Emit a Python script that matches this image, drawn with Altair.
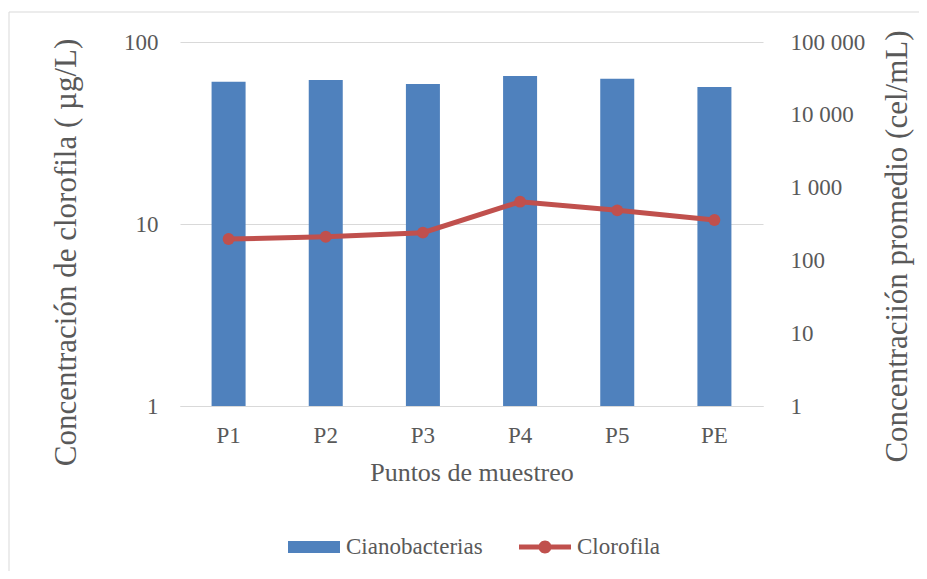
import altair as alt
import pandas as pd

categories = ["P1", "P2", "P3", "P4", "P5", "PE"]
cianobacterias = [28500, 30100, 26500, 34100, 31300, 24100]
clorofila = [8.27, 8.51, 8.96, 13.26, 11.89, 10.52]
series_names = ["Cianobacterias", "Clorofila"]
left_ticks = [1, 10, 100]
right_ticks = [1, 10, 100, 1000, 10000, 100000]

df = pd.DataFrame({"punto": categories, "ciano": cianobacterias, "cloro": clorofila})

FONT = "Liberation Serif"
GREY = "#595959"
BLUE = "#4f81bd"
RED = "#c0504d"
W, H = 583, 364

x_enc = alt.X(
    "punto:N",
    sort=categories,
    scale=alt.Scale(paddingInner=0.65, paddingOuter=0.325),
    axis=alt.Axis(
        title="Puntos de muestreo",
        labelAngle=0,
        ticks=False,
        tickSize=0,
        domainColor="#d9d9d9",
        domainWidth=1,
        labelPadding=18,
        titlePadding=12,
        labelFont=FONT,
        labelFontSize=23,
        labelColor=GREY,
        titleFont=FONT,
        titleFontSize=26,
        titleFontWeight="normal",
        titleColor=GREY,
    ),
)

bars = alt.Chart(df).mark_bar(color=BLUE).encode(
    x=x_enc,
    y=alt.Y(
        "ciano:Q",
        scale=alt.Scale(type="log", domain=[1, 100000]),
        axis=alt.Axis(
            orient="right",
            values=right_ticks,
            labelExpr="replace(format(datum.value, ','), ',', ' ')",
            grid=False,
            domain=False,
            ticks=False,
            tickSize=0,
            labelPadding=27,
            labelAlign="left",
            labelFont=FONT,
            labelFontSize=23,
            labelColor=GREY,
            title="Concentraciión promedio (cel/mL)",
            titleFont=FONT,
            titleFontSize=31,
            titleFontWeight="normal",
            titleColor=GREY,
            titleAngle=270,
            titleBaseline="bottom",
            titleAlign="center",
            titleX=150,
            titleY=204,
        ),
    ),
    y2=alt.datum(1),
)

line = alt.Chart(df).mark_line(
    color=RED, strokeWidth=5,
    point=alt.OverlayMarkDef(color=RED, filled=True, size=140, opacity=1),
).encode(
    x=x_enc,
    y=alt.Y(
        "cloro:Q",
        scale=alt.Scale(type="log", domain=[1, 100]),
        axis=alt.Axis(
            orient="left",
            values=left_ticks,
            format="d",
            grid=True,
            gridColor="#d9d9d9",
            gridWidth=1,
            domain=False,
            ticks=False,
            tickSize=0,
            labelPadding=22,
            labelFont=FONT,
            labelFontSize=23,
            labelColor=GREY,
            title="Concentración de clorofila ( µg/L)",
            titleFont=FONT,
            titleFontSize=31,
            titleFontWeight="normal",
            titleColor=GREY,
            titleAngle=270,
            titleBaseline="bottom",
            titleAlign="center",
            titleX=-98,
            titleY=210,
        ),
    ),
)

rect_path = "M-1,-0.23H1V0.23H-1Z"
line_path = "M-1,-0.1H1V0.1H-1Z M-0.25,0A0.25,0.25 0 1,1 0.25,0A0.25,0.25 0 1,1 -0.25,0Z"

legend_cfg = dict(
    title=None,
    orient="none",
    direction="horizontal",
    legendX=108,
    legendY=479,
    symbolSize=2704,
    symbolStrokeWidth=0,
    symbolOpacity=1,
    labelOffset=6,
    columnPadding=36,
    labelFont=FONT,
    labelFontSize=23,
    labelColor=GREY,
)

legend_layer = alt.Chart(pd.DataFrame({"serie": series_names})).mark_point(
    filled=True, opacity=1
).encode(
    color=alt.Color(
        "serie:N",
        scale=alt.Scale(domain=series_names, range=[BLUE, RED]),
        legend=alt.Legend(**legend_cfg),
    ),
    shape=alt.Shape(
        "serie:N",
        scale=alt.Scale(domain=series_names, range=[rect_path, line_path]),
        legend=alt.Legend(**legend_cfg),
    ),
).transform_filter("false")

frame = alt.Chart(pd.DataFrame({"f": [0]})).mark_rect(
    fillOpacity=0, stroke="#d9d9d9", strokeWidth=1
).encode(
    x=alt.value(-171), x2=alt.value(W + 300),
    y=alt.value(-30), y2=alt.value(H + 300),
)

chart = alt.layer(frame, bars, line, legend_layer).resolve_scale(
    y="independent"
).properties(
    width=W,
    height=H,
    autosize=alt.AutoSizeParams(type="none"),
    padding={"left": 172, "top": 34, "right": 156, "bottom": 165},
).configure_view(stroke=None).configure_legend(
    labelFont=FONT, labelFontSize=23, labelColor=GREY
)

chart.save("out.html", embed_options={"renderer": "svg", "actions": False})
